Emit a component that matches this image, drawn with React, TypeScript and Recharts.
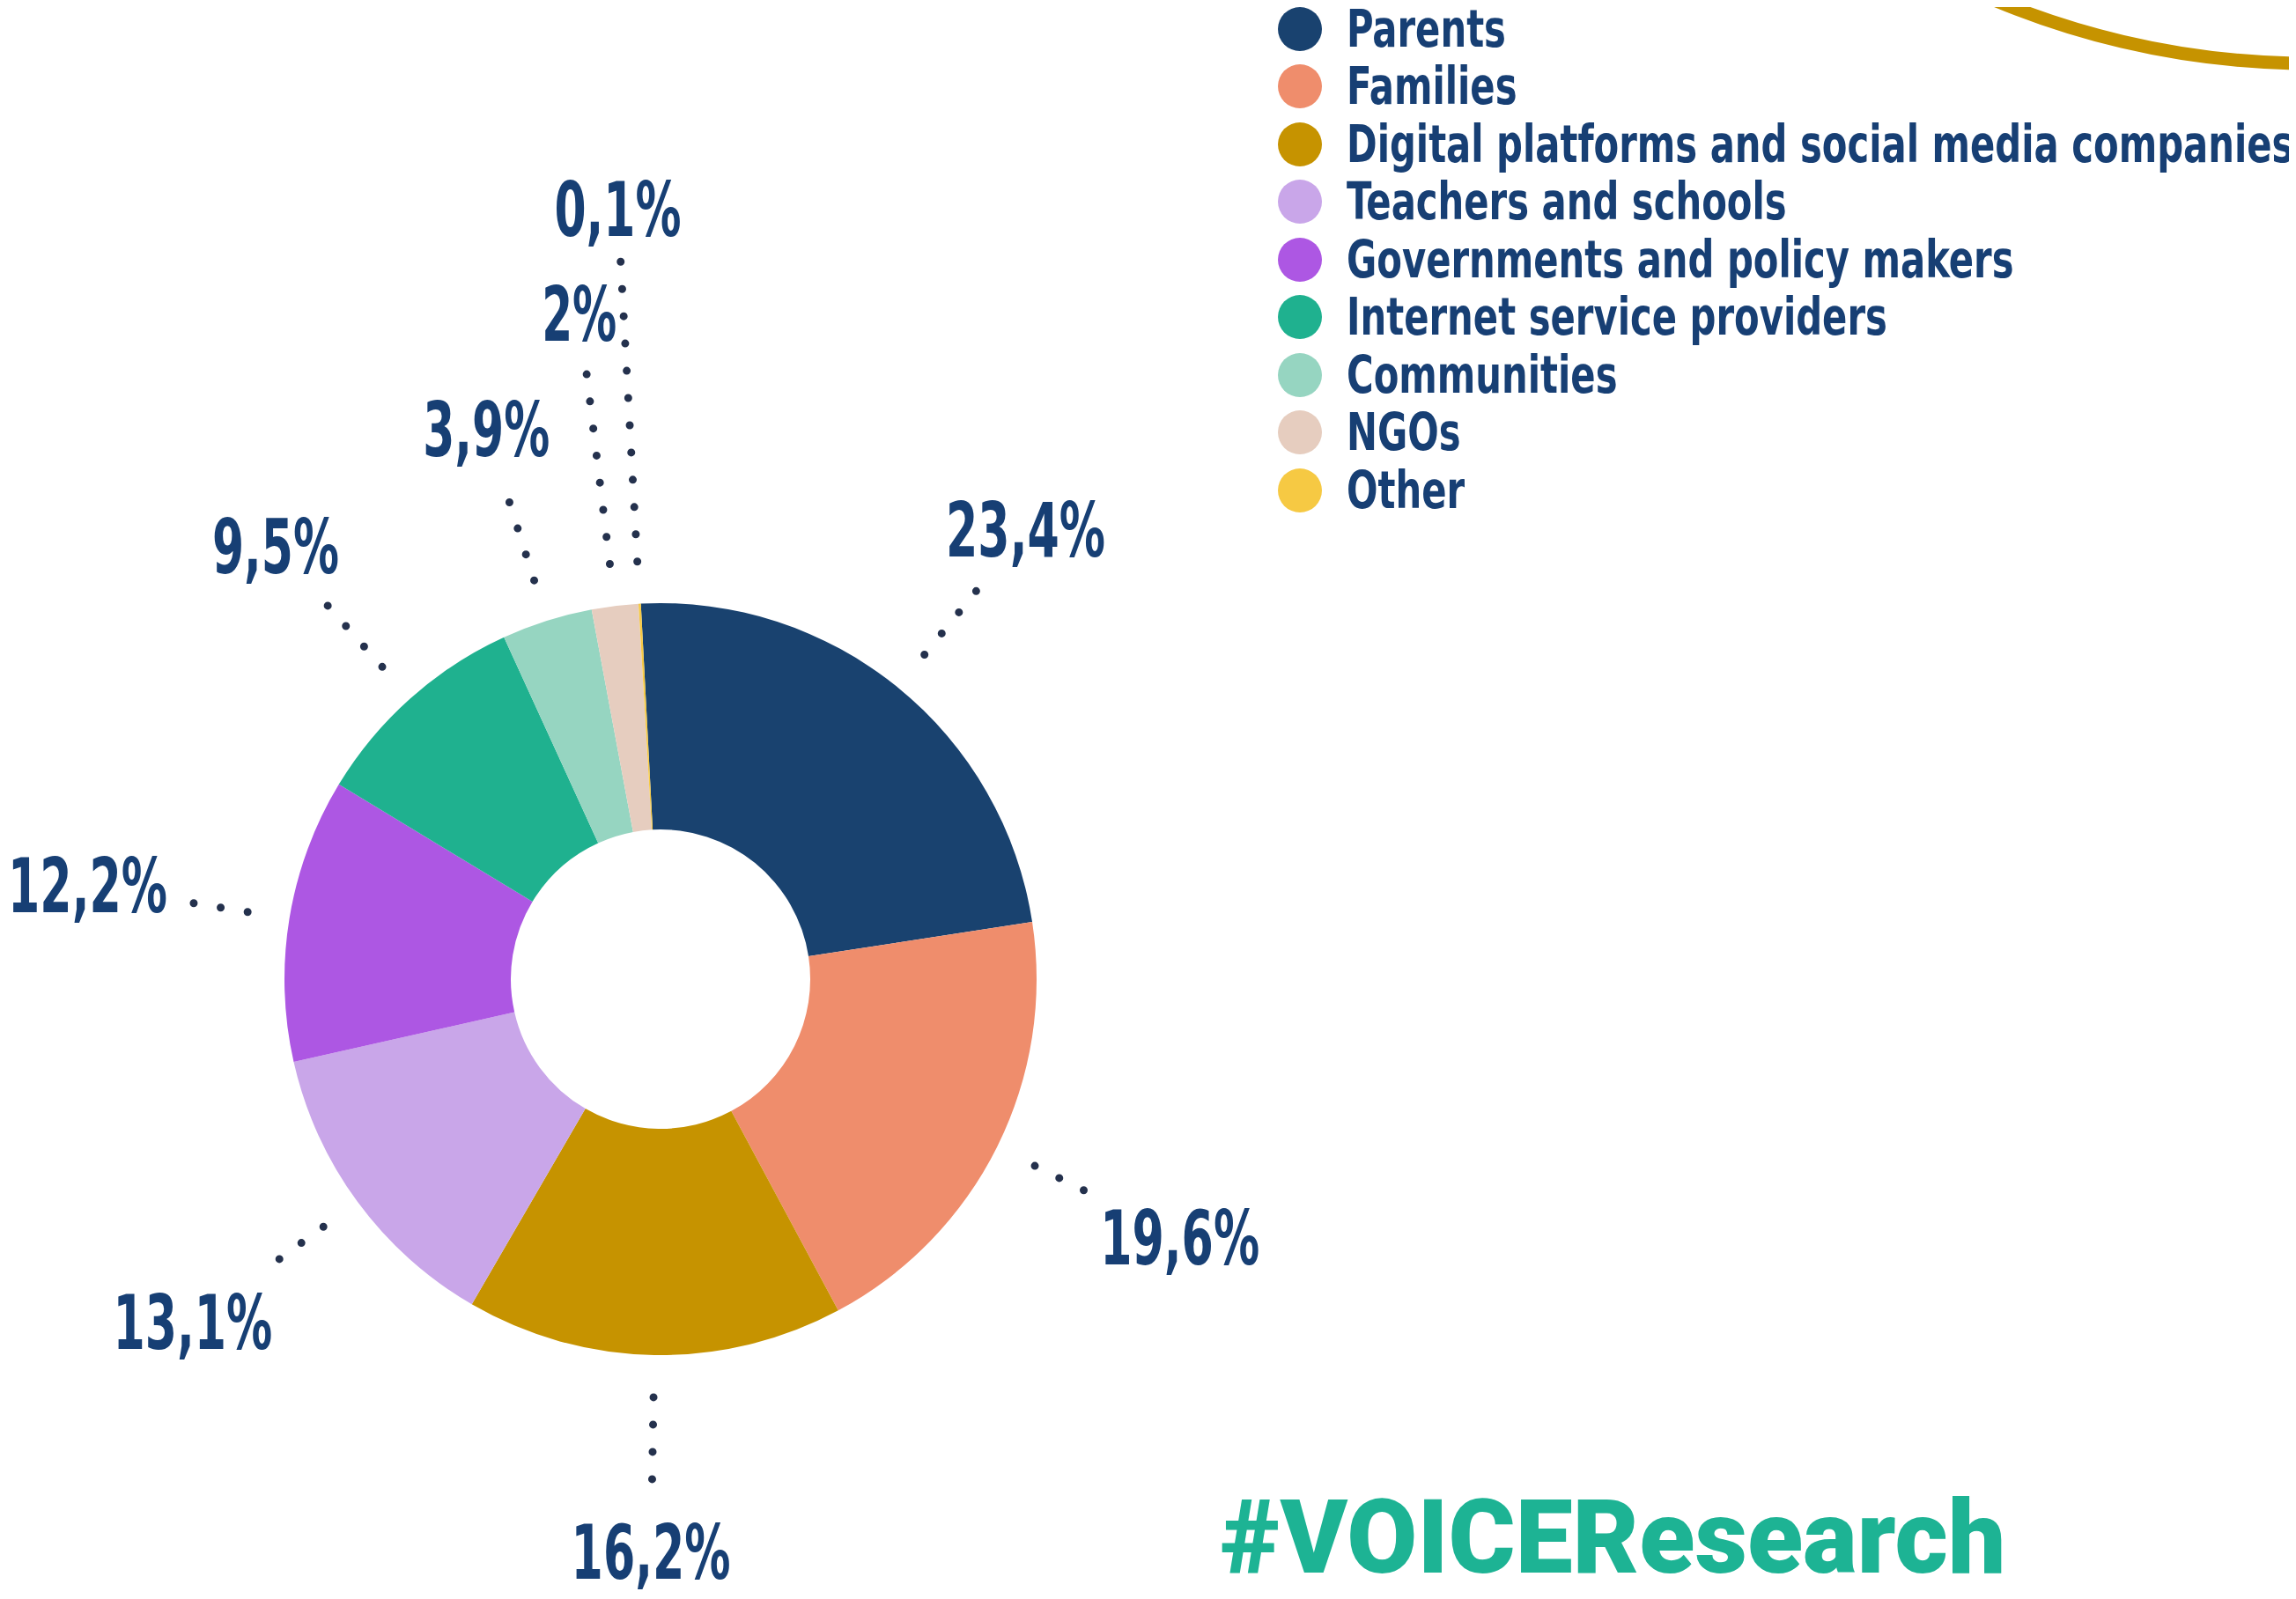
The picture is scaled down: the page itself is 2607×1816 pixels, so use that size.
import React from "react";
import { PieChart, Pie, Cell, Legend } from "recharts";

// Who should protect children online — share of answers (%)
const CATEGORIES = [
  "Parents",
  "Families",
  "Digital platforms and social media companies",
  "Teachers and schools",
  "Governments and policy makers",
  "Internet service providers",
  "Communities",
  "NGOs",
  "Other",
];
const SHARES = [23.4, 19.6, 16.2, 13.1, 12.2, 9.5, 3.9, 2, 0.1];
const COLORS = [
  "#19426f",
  "#ef8d6c",
  "#c69300",
  "#c9a6e9",
  "#ad57e3",
  "#1fb18f",
  "#96d5c1",
  "#e6cdbf",
  "#f6c943",
];

// label placement: extra distance past the outer edge, and number of leader dots
const LABEL_EXTRA = [230, 232, 224, 232, 232, 230, 228, 334, 448];
const LABEL_DOTS = [4, 3, 4, 3, 3, 4, 4, 8, 12];
const DOT_START = 48;
const DOT_GAP = 31;

const NAVY = "#173f74";
const DOT_COLOR = "#24314d";
const NARROW = "'DejaVu Sans Condensed', 'DejaVu Sans', sans-serif";

const data = CATEGORIES.map((name, i) => ({ name, value: SHARES[i] }));

const fmt = (v: number) => `${String(v).replace(".", ",")}%`;

// the original lettering is very narrow: squeeze the label text to its width
const textWidth = (s: string) =>
  s.split("").reduce((w, ch) => w + (ch === "," ? 22 : ch === "%" ? 48 : 37), 0);

function renderLabel(props: any) {
  const { cx, cy, midAngle, outerRadius, index, value } = props;
  const rad = Math.PI / 180;
  const cos = Math.cos(-midAngle * rad);
  const sin = Math.sin(-midAngle * rad);
  const r0 = outerRadius + DOT_START;
  const r1 = r0 + (LABEL_DOTS[index] - 1) * DOT_GAP + 0.5;
  const rl = outerRadius + LABEL_EXTRA[index];
  const txt = fmt(value);
  return (
    <g key={`lbl-${index}`}>
      <line
        x1={cx + r0 * cos}
        y1={cy + r0 * sin}
        x2={cx + r1 * cos}
        y2={cy + r1 * sin}
        stroke={DOT_COLOR}
        strokeWidth={9}
        strokeLinecap="round"
        strokeDasharray={`0 ${DOT_GAP}`}
      />
      <text
        x={cx + rl * cos}
        y={cy + rl * sin}
        textAnchor="middle"
        dominantBaseline="central"
        fill={NAVY}
        fontFamily={NARROW}
        fontWeight={700}
        fontSize={86}
        textLength={textWidth(txt)}
        lengthAdjust="spacingAndGlyphs"
      >
        {txt}
      </text>
    </g>
  );
}

function renderLegend() {
  return (
    <div>
      {CATEGORIES.map((name, i) => (
        <div key={name} style={{ display: "flex", alignItems: "center", height: 65.5 }}>
          <span
            style={{
              display: "inline-block",
              width: 50,
              height: 50,
              borderRadius: "50%",
              background: COLORS[i],
              marginRight: 28,
              flex: "none",
            }}
          />
          <span
            style={{
              display: "inline-block",
              fontFamily: NARROW,
              fontWeight: 700,
              fontSize: 58,
              color: NAVY,
              lineHeight: 1,
              whiteSpace: "nowrap",
              transform: "scaleX(0.8)",
              transformOrigin: "left center",
            }}
          >
            {name}
          </span>
        </div>
      ))}
    </div>
  );
}

export default function App() {
  return (
    <div style={{ margin: -8, width: 2607, height: 1816, position: "relative", overflow: "hidden", background: "#fff" }}>
      <PieChart width={2607} height={1816} margin={{ top: 0, right: 0, bottom: 0, left: 0 }}>
        <Pie
          data={data}
          dataKey="value"
          nameKey="name"
          cx={750}
          cy={1112}
          innerRadius={170}
          outerRadius={427}
          startAngle={93}
          endAngle={-267}
          stroke="none"
          label={renderLabel}
          labelLine={false}
          isAnimationActive={false}
        >
          {data.map((d, i) => (
            <Cell key={d.name} fill={COLORS[i]} />
          ))}
        </Pie>
        <Legend
          layout="vertical"
          align="right"
          verticalAlign="top"
          content={renderLegend}
          wrapperStyle={{ left: 1451, right: "auto", top: 0, width: 1150 }}
        />
      </PieChart>
      <svg width={2607} height={200} style={{ position: "absolute", left: 0, top: 0, pointerEvents: "none" }}>
        <path d="M 2220 -20 A 931 931 0 0 0 2610 72" fill="none" stroke="#c69300" strokeWidth={15} />
      </svg>
      <div
        style={{
          position: "absolute",
          left: 1386,
          top: 1694,
          fontFamily: "Roboto, 'DejaVu Sans', sans-serif",
          fontWeight: 900,
          fontSize: 116,
          lineHeight: 0.9,
          color: "#1db394",
          letterSpacing: 0,
          whiteSpace: "nowrap",
        }}
      >
        #VOICEResearch
      </div>
    </div>
  );
}
